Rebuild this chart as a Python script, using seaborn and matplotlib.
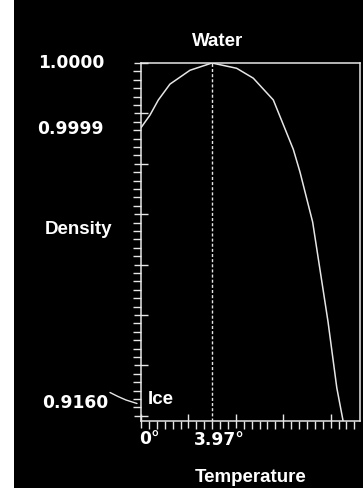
import matplotlib
matplotlib.use("Agg")
import matplotlib.pyplot as plt
import matplotlib.transforms as mtransforms
from matplotlib.patches import Rectangle
import numpy as np
import pandas as pd
import seaborn as sns

# ---- data ----
temps = [0.0, 0.50, 0.97, 1.62, 2.74, 3.97, 5.35, 6.28, 7.40, 8.52, 8.89, 9.60, 10.46, 10.95, 11.30]
density = [0.999902, 0.999921, 0.999944, 0.999968, 0.999989, 1.0000, 0.999992, 0.999977,
           0.999944, 0.999869, 0.999835, 0.999759, 0.999608, 0.999508, 0.999458]
max_temp = 3.97
y_labels = ["1.0000", "0.9999"]
y_label_vals = [1.0000, 0.9999]
ice_label = "0.9160"
x_labels = ["0°", "3.97°"]
title = "Water"
xlabel = "Temperature"
ylabel = "Density"
ice_text = "Ice"

df = pd.DataFrame({"Temperature": temps, "Density": density})

sns.set_style("dark", {"axes.facecolor": "black", "figure.facecolor": "black"})
plt.rcParams["lines.scale_dashes"] = False

W, H = 363, 488
fig = plt.figure(figsize=(W / 100, H / 100), dpi=100)
fig.patch.set_facecolor("black")
# white strip on the left edge
fig.patches.append(Rectangle((0, 0), 14 / W, 1, transform=fig.transFigure,
                             facecolor="white", edgecolor="none", zorder=-1))

ax_l, ax_r, ax_t, ax_b = 141, 360, 63, 421
ax = fig.add_axes([ax_l / W, 1 - ax_b / H, (ax_r - ax_l) / W, (ax_b - ax_t) / H])
ax.set_facecolor("black")

fg = "#e6e6e6"
txt = "#ffffff"
px_per_deg = 17.88
px_per_unit_y = 660000.0
ax.set_xlim(0, (ax_r - ax_l) / px_per_deg)
ax.set_ylim(1.0 - (ax_b - ax_t) / px_per_unit_y, 1.0)

sns.lineplot(data=df, x="Temperature", y="Density", ax=ax, color=fg, lw=1.1, sort=True)
ax.axvline(max_temp, color=fg, lw=1.0, linestyle=(0, (2.2, 1.5)))

for s in ax.spines.values():
    s.set_color(fg)
    s.set_linewidth(1.1)
    s.set_visible(True)

# ticks
xstep = 7.9 / px_per_deg
xt = [i * xstep for i in range(28)]
ax.set_xticks([v for i, v in enumerate(xt) if i % 6 == 0])
ax.set_xticks([v for i, v in enumerate(xt) if i % 6 != 0], minor=True)
ystep = 8.4 / px_per_unit_y
yt = [1.0 - i * ystep for i in range(43)]
ax.set_yticks([v for i, v in enumerate(yt) if i % 6 == 0])
ax.set_yticks([v for i, v in enumerate(yt) if i % 6 != 0], minor=True)
ax.set_xticklabels([])
ax.set_yticklabels([])
ax.tick_params(which="both", left=True, bottom=True, top=False, right=False)
ax.tick_params(which="major", direction="inout", length=9.5, width=1.0, color=fg)
ax.tick_params(which="minor", direction="out", length=5.5, width=1.0, color=fg)
ax.set_xlabel("")
ax.set_ylabel("")
ax.grid(False)

num_font = dict(family="DejaVu Sans", weight="bold", size=12.3, color=txt)
word_font = dict(family="Liberation Sans", weight="bold", size=13.5, color=txt)

def fx(px):
    return px / W

def fy(py):
    return 1 - py / H

# y value labels tied to data
trans_y = mtransforms.blended_transform_factory(fig.transFigure, ax.transData)
for lab, val in zip(y_labels, y_label_vals):
    fig.text(fx(104), val, lab, transform=trans_y, ha="right", va="center", **num_font)

fig.text(fx(108), fy(403), ice_label, ha="right", va="center", **num_font)
# leader line from ice label to axis
lx = np.array([110, 118, 126, 137]) / W
ly = 1 - np.array([392.5, 396.5, 400.0, 403.5]) / H
fig.add_artist(plt.Line2D(lx, ly, transform=fig.transFigure, color=fg, lw=1.0))
fig.text(fx(148), fy(400), ice_text, ha="left", va="center", **word_font)

# x value labels tied to data
trans_x = mtransforms.blended_transform_factory(ax.transData, fig.transFigure)
fig.text(-0.1, fy(439), x_labels[0], transform=trans_x, ha="left", va="center", **num_font)
fig.text(max_temp + 7 / px_per_deg, fy(440), x_labels[1], transform=trans_x,
         ha="center", va="center", **num_font)

fig.text(fx(218), fy(41), title, ha="center", va="center", **word_font)
fig.text(fx(79), fy(230), ylabel, ha="center", va="center", **word_font)
fig.text(fx(251), fy(477), xlabel, ha="center", va="center", **word_font)

fig.savefig("out.png", dpi=100, facecolor=fig.get_facecolor())
